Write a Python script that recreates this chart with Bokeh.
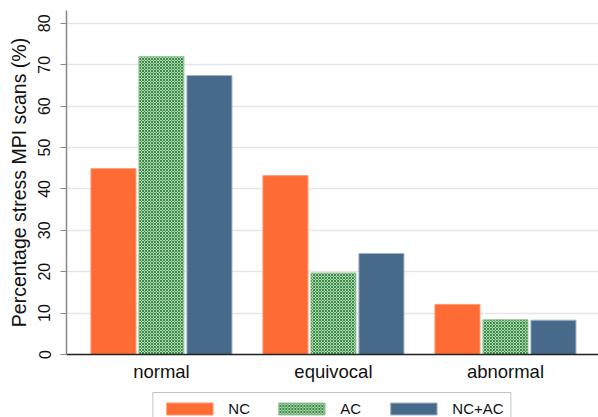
from bokeh.plotting import figure
from bokeh.layouts import column
from bokeh.models import Range1d, FixedTicker, Legend, LegendItem, ColumnDataSource
from bokeh.embed import file_html
from bokeh.resources import INLINE

categories = ["normal", "equivocal", "abnormal"]
series_names = ["NC", "AC", "NC+AC"]
nc_values = [44.9, 43.2, 12.1]
ac_values = [72.0, 19.7, 8.4]
ncac_values = [67.4, 24.4, 8.3]
y_ticks = [0, 10, 20, 30, 40, 50, 60, 70, 80]

FONT = "Liberation Sans"

NC_STYLE = dict(fill_color="#FF6B35", line_color="#FF9A70", line_width=1)
AC_STYLE = dict(fill_color="#B2D8B2", line_color="#9CC79F", line_width=1,
                hatch_pattern="diagonal_cross", hatch_scale=3, hatch_color="#3A8C48",
                hatch_weight=1)
NCAC_STYLE = dict(fill_color="#476A8B", line_color="#9FB3C8", line_width=1)

p = figure(width=598, height=392, output_backend="svg", toolbar_location=None,
           x_range=Range1d(-0.552, 2.541), y_range=Range1d(0, 83.1),
           min_border_left=66, min_border_top=10, min_border_right=0,
           min_border_bottom=38)
p.outline_line_color = None
p.background_fill_color = "white"

xs = list(range(len(categories)))
off = 0.279
w = 0.262

src_nc = ColumnDataSource(dict(x=[x - off for x in xs], top=nc_values))
src_ac = ColumnDataSource(dict(x=list(xs), top=ac_values))
src_ncac = ColumnDataSource(dict(x=[x + off for x in xs], top=ncac_values))

p.vbar(x="x", top="top", width=w, bottom=0, source=src_nc, **NC_STYLE)
p.vbar(x="x", top="top", width=w, bottom=0, source=src_ac, **AC_STYLE)
p.vbar(x="x", top="top", width=w, bottom=0, source=src_ncac, **NCAC_STYLE)

# axes
p.xaxis.ticker = FixedTicker(ticks=xs)
p.xaxis.major_label_overrides = {i: c for i, c in enumerate(categories)}
p.xaxis.major_tick_line_color = None
p.xaxis.major_tick_out = 0
p.xaxis.major_tick_in = 0
p.xaxis.minor_tick_line_color = None
p.xaxis.axis_line_color = "#222222"
p.xaxis.axis_line_width = 1.5
p.xaxis.major_label_text_font = FONT
p.xaxis.major_label_text_font_size = "18.5px"
p.xaxis.major_label_text_color = "#111111"
p.xaxis.major_label_standoff = 6

p.yaxis.ticker = FixedTicker(ticks=y_ticks)
p.yaxis.axis_label = "Percentage stress MPI scans (%)"
p.yaxis.axis_label_text_font = FONT
p.yaxis.axis_label_text_font_style = "normal"
p.yaxis.axis_label_text_font_size = "19.5px"
p.yaxis.axis_label_text_color = "#111111"
p.yaxis.axis_label_standoff = 6
p.yaxis.major_label_orientation = "vertical"
p.yaxis.major_label_text_font = FONT
p.yaxis.major_label_text_font_size = "16px"
p.yaxis.major_label_text_color = "#111111"
p.yaxis.major_label_standoff = 10
p.yaxis.minor_tick_line_color = None
p.yaxis.major_tick_out = 6
p.yaxis.major_tick_in = 0
p.yaxis.major_tick_line_color = "#888888"
p.yaxis.axis_line_color = "#888888"
p.yaxis.axis_line_width = 1.5

p.xgrid.grid_line_color = None
p.ygrid.grid_line_color = "#E6E6E6"
p.ygrid.grid_line_width = 1.5

# legend strip below the chart; swatch renderers are tiny and sit behind the legend box
q = figure(width=598, height=25, output_backend="svg", toolbar_location=None,
           x_range=Range1d(0, 1), y_range=Range1d(0, 1),
           x_axis_location=None, y_axis_location=None,
           min_border_left=66, min_border_top=0, min_border_right=0,
           min_border_bottom=0)
q.outline_line_color = None
q.xgrid.grid_line_color = None
q.ygrid.grid_line_color = None
hidden = dict(x=[0.5], top=[0.6], bottom=[0.5])
l_nc = q.vbar(x="x", top="top", bottom="bottom", width=0.005,
              source=ColumnDataSource(dict(hidden)), **NC_STYLE)
l_ac = q.vbar(x="x", top="top", bottom="bottom", width=0.005,
              source=ColumnDataSource(dict(hidden)), **AC_STYLE)
l_ncac = q.vbar(x="x", top="top", bottom="bottom", width=0.005,
                source=ColumnDataSource(dict(hidden)), **NCAC_STYLE)

legend = Legend(items=[LegendItem(label=series_names[0], renderers=[l_nc]),
                       LegendItem(label=series_names[1], renderers=[l_ac]),
                       LegendItem(label=series_names[2], renderers=[l_ncac])],
                orientation="horizontal", location="top_center")
legend.margin = 0
legend.padding = 7
legend.spacing = 0
legend.glyph_width = 58
legend.glyph_height = 15
legend.label_height = 15
legend.label_width = 44
legend.label_standoff = 10
legend.label_text_font = FONT
legend.label_text_font_size = "15px"
legend.label_text_color = "#111111"
legend.border_line_color = "#888888"
legend.border_line_width = 1.5
legend.background_fill_color = "white"
legend.background_fill_alpha = 1
q.add_layout(legend, "center")

layout = column(p, q, spacing=0)
open("out.html", "w").write(file_html(layout, INLINE))
